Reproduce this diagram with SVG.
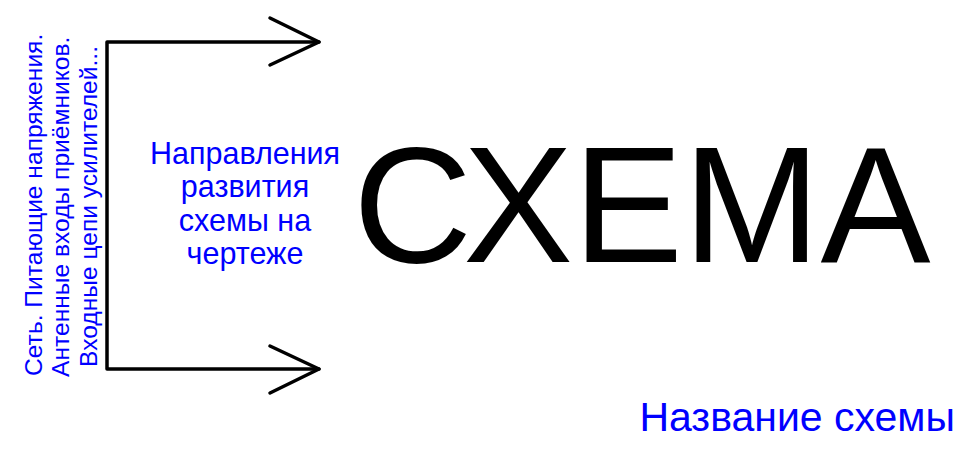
<svg xmlns="http://www.w3.org/2000/svg" width="975" height="458" viewBox="0 0 975 458">
<style>
.blue{fill:#0000ff;font-family:"Liberation Sans",Arial,sans-serif}
.side{font-size:24.6px}
.mid{font-size:30.5px;text-anchor:middle}
.line{fill:none;stroke:#000;stroke-width:3.5;stroke-linecap:round;stroke-linejoin:round}
</style>
<rect width="975" height="458" fill="#fff"/>
<g id="connectors">
<path class="line" d="M319,42 H107 V369 H319"/>
<path class="line" d="M270,18 L319,42 L270,65"/>
<path class="line" d="M270,346 L319,369 L270,393"/>
</g>
<g id="side-labels">
<text class="blue side" transform="translate(42,376) rotate(-90)">Сеть. Питающие напряжения.</text>
<text class="blue side" transform="translate(69,377) rotate(-90)">Антенные входы приёмников.</text>
<text class="blue side" transform="translate(97,367) rotate(-90)">Входные цепи усилителей...</text>
</g>
<g id="direction-label">
<text class="blue mid" x="245" y="164">Направления</text>
<text class="blue mid" x="245" y="197">развития</text>
<text class="blue mid" x="245" y="231">схемы на</text>
<text class="blue mid" x="245" y="264">чертеже</text>
</g>
<g id="schema-title">
<text x="353" y="262" font-family="Liberation Sans,Arial,sans-serif" font-size="165" fill="#000">СХЕМА</text>
</g>
<g id="schema-name">
<text class="blue" x="955" y="431" font-size="41" text-anchor="end">Название схемы</text>
</g>
</svg>
